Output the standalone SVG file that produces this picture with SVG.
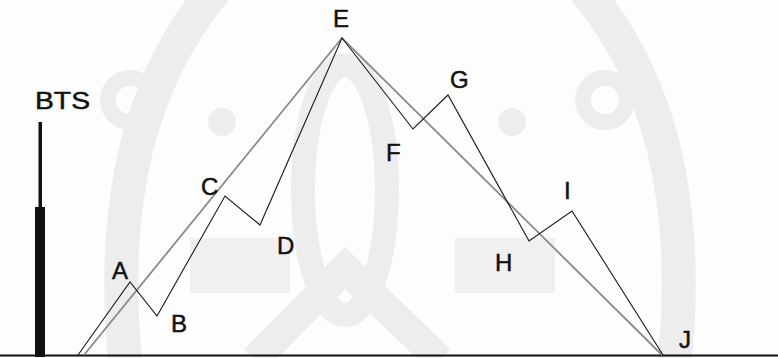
<svg xmlns="http://www.w3.org/2000/svg" width="778" height="358" viewBox="0 0 778 358">
<style>
.lbl{font-family:"Liberation Sans",Arial,sans-serif;font-size:24px;fill:#111;stroke:#111;stroke-width:0.5;}
.wm{fill:none;stroke:#ededed;}
.zig{fill:none;stroke:#1a1a1a;stroke-width:1.1;stroke-linejoin:miter;}
.ray{fill:none;stroke:#8a8a8a;stroke-width:1.8;}
</style>
<rect width="778" height="358" fill="#fdfdfd"/>
<g id="watermark">
<path class="wm" stroke-width="34" d="M 215 -10 C 140 80 110 200 125 360"/>
<path class="wm" stroke-width="34" d="M 585 -10 C 660 80 690 200 675 360"/>
<circle cx="130" cy="100" r="22" class="wm" stroke-width="16"/>
<circle cx="605" cy="100" r="22" class="wm" stroke-width="16"/>
<circle cx="222" cy="122" r="14" fill="#ededed"/>
<circle cx="512" cy="122" r="14" fill="#ededed"/>
<ellipse cx="345" cy="190" rx="42" ry="125" class="wm" stroke-width="24"/>
<path class="wm" stroke-width="30" d="M 255 360 L 345 268 L 440 360"/>
<rect x="190" y="238" width="100" height="55" fill="#f0f0f0"/>
<rect x="455" y="238" width="100" height="55" fill="#f0f0f0"/>
</g>
<g id="ground"><line x1="0" y1="355.5" x2="778" y2="355.5" stroke="#111" stroke-width="2"/></g>
<g id="bts">
<rect x="38.5" y="122" width="3.5" height="88" fill="#111"/>
<rect x="35" y="207" width="10" height="150" fill="#111"/>
<text class="lbl" x="35" y="109" font-size="22" textLength="55" lengthAdjust="spacingAndGlyphs">BTS</text>
</g>
<g id="connectors">
<polyline class="ray" points="84,355 342,38 662,355"/>
<polyline class="zig" points="78,355 130,282 157,316 225,196 260,225 342,38 413,129 448,95 529,241 572,211 663,355"/>
</g>
<g id="node-A"><text class="lbl" x="112" y="279">A</text></g>
<g id="node-B"><text class="lbl" x="171" y="332">B</text></g>
<g id="node-C"><text class="lbl" x="201" y="195">C</text></g>
<g id="node-D"><text class="lbl" x="277" y="254">D</text></g>
<g id="node-E"><text class="lbl" x="333" y="27">E</text></g>
<g id="node-F"><text class="lbl" x="386" y="161">F</text></g>
<g id="node-G"><text class="lbl" x="450" y="88">G</text></g>
<g id="node-H"><text class="lbl" x="495" y="271">H</text></g>
<g id="node-I"><text class="lbl" x="564" y="199">I</text></g>
<g id="node-J"><text class="lbl" x="679" y="348">J</text></g>
</svg>
